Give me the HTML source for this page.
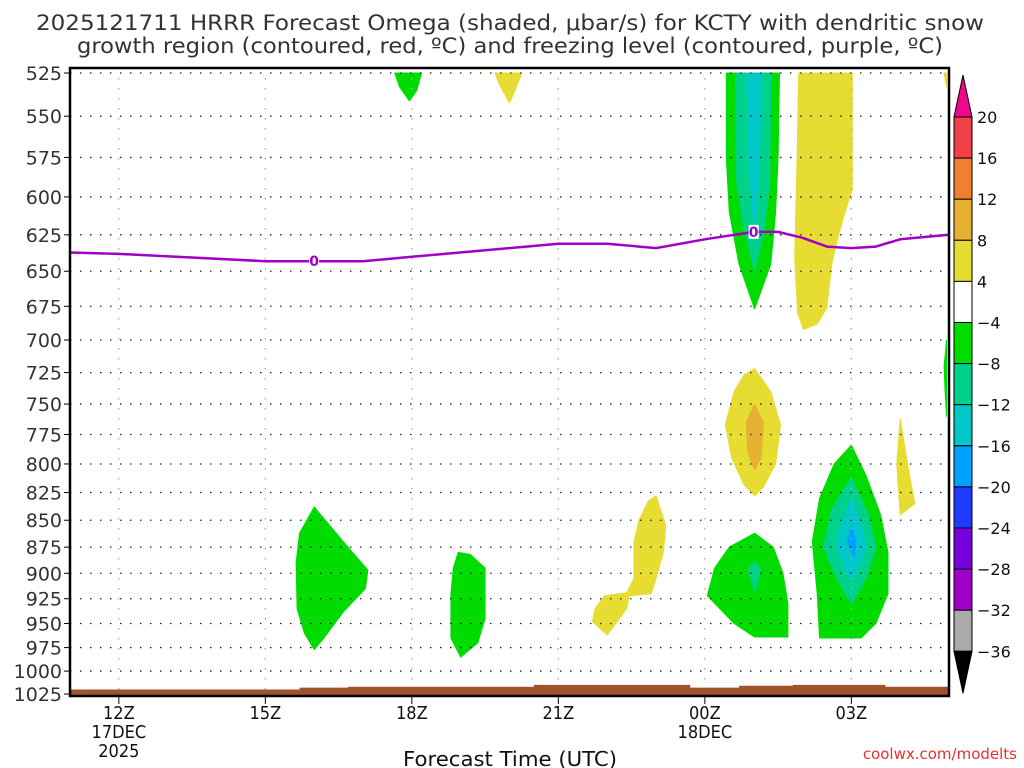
<!DOCTYPE html>
<html><head><meta charset="utf-8"><style>
body{margin:0;background:#fff;width:1024px;height:768px;overflow:hidden;font-family:"Liberation Sans",sans-serif}
svg{display:block}
</style></head><body>
<svg id="chart" width="1024" height="768" xmlns="http://www.w3.org/2000/svg">
<text x="510" y="30" text-anchor="middle" font-size="21" fill="#333" font-family="DejaVu Sans,sans-serif" textLength="948" lengthAdjust="spacingAndGlyphs">2025121711 HRRR Forecast Omega (shaded, μbar/s) for KCTY with dendritic snow</text>
<text x="510" y="53" text-anchor="middle" font-size="21" fill="#333" font-family="DejaVu Sans,sans-serif" textLength="866" lengthAdjust="spacingAndGlyphs">growth region (contoured, red, ºC) and freezing level (contoured, purple, ºC)</text>
<g id="fills"></g>
<g id="grid"></g>
<g id="terrain"></g>
<g id="frz"></g>
<g id="axes"></g>
<g id="cbar"></g>
<text x="510" y="766" text-anchor="middle" font-size="20" fill="#111" font-family="DejaVu Sans,sans-serif" textLength="214" lengthAdjust="spacingAndGlyphs">Forecast Time (UTC)</text>
<text x="1017" y="759" text-anchor="end" font-size="15" fill="#e83030" font-family="DejaVu Sans,sans-serif">coolwx.com/modelts</text>
</svg>
<script>
const pressureTicks=[525,550,575,600,625,650,675,700,725,750,775,800,825,850,875,900,925,950,975,1000,1025];
const hourTicks=[12,15,18,21,24,27];
const hourLabels=["12Z","15Z","18Z","21Z","00Z","03Z"];
const dateLabels=[["17DEC","2025"],[],[],[],["18DEC"],[]];
const frzHours=[11,12,15,16,17,18,20,21,22,23,24,25,25.5,26,26.5,27,27.5,28,29];
const frzP=[637,638,643,643,643,640,634,631,631,634,628,623,623,627,633,634,633,628,625];
const terrainHours=[11,15.7,16.7,20.5,23.7,24.7,25.8,27.7,29];
const terrainP=[1020,1018,1017,1015,1018,1016,1015,1017,1017];
const cbarLevels=[20,16,12,8,4,-4,-8,-12,-16,-20,-24,-28,-32,-36];
const cbarColors=["#f04048","#f08030","#e6b030","#e6dc32","#ffffff","#00dc00","#00d28c","#00c8c8","#00a0ff","#1e3cff","#7800dc","#a000c8","#aaaaaa"];
const blobs=[
 {c:"#00dc00",pts:[[16.0,838],[16.6,870],[17.1,897],[17.05,915],[16.6,938],[16.2,965],[16.0,977],[15.8,960],[15.65,935],[15.63,890],[15.7,862]]},
 {c:"#00dc00",pts:[[18.95,880],[19.2,882],[19.5,895],[19.5,945],[19.35,970],[19.0,985],[18.8,965],[18.8,920],[18.85,895]]},
 {c:"#e6dc32",pts:[[23.0,828],[23.2,855],[23.15,880],[23.0,905],[22.9,920],[22.45,922],[22.4,935],[22.1,955],[22.0,962],[21.7,948],[21.75,935],[21.95,922],[22.4,919],[22.55,905],[22.55,870],[22.65,850],[22.85,832]]},
 {c:"#00dc00",pts:[[17.65,525],[18.2,525],[18.1,535],[17.95,541],[17.75,533]]},
 {c:"#e6dc32",pts:[[19.7,525],[20.25,525],[20.1,536],[20.0,542],[19.8,532]]},
 {c:"#00dc00",pts:[[24.44,525],[25.53,525],[25.5,575],[25.45,610],[25.35,645],[25.02,677],[24.7,645],[24.5,610],[24.44,575]]},
 {c:"#00d28c",pts:[[24.63,525],[25.35,525],[25.33,590],[25.2,625],[25.02,650],[24.8,620],[24.65,590]]},
 {c:"#00c8c8",pts:[[24.86,525],[25.15,525],[25.12,580],[25.02,625],[24.9,580]]},
 {c:"#e6dc32",pts:[[25.92,525],[27.02,525],[27.02,595],[26.85,612],[26.7,630],[26.6,645],[26.5,676],[26.3,688],[26.02,692],[25.9,680],[25.84,640],[25.87,600],[25.9,560]]},
 {c:"#e6dc32",pts:[[25.02,722],[25.35,740],[25.55,767],[25.45,800],[25.2,820],[25.02,828],[24.8,818],[24.55,795],[24.42,767],[24.6,740],[24.8,727]]},
 {c:"#e6b030",pts:[[25.02,750],[25.2,765],[25.15,795],[25.02,805],[24.88,790],[24.85,765]]},
 {c:"#e6dc32",pts:[[28.0,762],[28.15,800],[28.3,835],[28.0,845],[27.93,800]]},
 {c:"#00dc00",pts:[[27.0,784],[27.3,810],[27.6,845],[27.75,880],[27.75,920],[27.5,950],[27.2,965],[26.35,965],[26.3,920],[26.2,870],[26.35,830],[26.65,800]]},
 {c:"#00d28c",pts:[[27.0,812],[27.35,845],[27.5,875],[27.3,905],[27.0,930],[26.7,905],[26.43,875],[26.6,840]]},
 {c:"#00c8c8",pts:[[27.0,830],[27.25,860],[27.3,875],[27.15,895],[27.0,907],[26.85,895],[26.7,875],[26.78,855]]},
 {c:"#00a0ff",pts:[[27.0,855],[27.1,870],[27.05,885],[26.92,870]]},
 {c:"#00dc00",pts:[[25.02,862],[25.4,875],[25.6,900],[25.7,930],[25.7,964],[25.02,964],[24.6,950],[24.05,922],[24.2,895],[24.5,875]]},
 {c:"#00d28c",pts:[[25.02,889],[25.15,897],[25.02,918],[24.88,897]]},
 {c:"#00dc00",pts:[[28.9,720],[28.95,700],[28.95,760],[28.92,740]]},
 {c:"#e6dc32",pts:[[28.9,525],[28.95,525],[28.95,533]]}
];
const NS="http://www.w3.org/2000/svg";
const X0=70,X1=949,Y0=68,Y1=696,H0=11,H1=29;
const yTop=73,yBot=694,P0=525,P1=1025;
function xs(h){return X0+(h-H0)/(H1-H0)*(X1-X0);}
function ys(p){return yTop+(Math.log(p)-Math.log(P0))/(Math.log(P1)-Math.log(P0))*(yBot-yTop);}
function mk(tag,attrs,parent){const e=document.createElementNS(NS,tag);for(const k in attrs)e.setAttribute(k,attrs[k]);parent.appendChild(e);return e;}
const fills=document.getElementById('fills');
blobs.forEach(b=>{const p=mk('polygon',{points:b.pts.map(q=>xs(q[0]).toFixed(1)+','+ys(q[1]).toFixed(1)).join(' '),fill:b.c,stroke:b.c,'stroke-width':1,'stroke-linejoin':'round'},fills);

});
const grid=document.getElementById('grid');
pressureTicks.forEach(p=>{const l=mk('line',{x1:X0,x2:X1,y1:ys(p),y2:ys(p),stroke:'#222','stroke-width':1.3,'stroke-dasharray':'1.5 8.5'},grid);

});
hourTicks.forEach(h=>{const l=mk('line',{x1:xs(h),x2:xs(h),y1:Y0,y2:Y1,stroke:'#aaa','stroke-width':1.3,'stroke-dasharray':'1.5 8.5'},grid);

});
const ter=document.getElementById('terrain');
let d='M'+X0+','+Y1;
terrainHours.forEach((h,i)=>{const y=ys(terrainP[i]);if(i>0)d+=' L'+xs(h).toFixed(1)+','+ys(terrainP[i-1]).toFixed(1);d+=' L'+xs(h).toFixed(1)+','+y.toFixed(1);});
d+=' L'+X1+','+Y1+' Z';
const tp=mk('path',{d:d,fill:'#a0522d'},ter);


const frz=document.getElementById('frz');
const fl=mk('polyline',{points:frzHours.map((h,i)=>xs(h).toFixed(1)+','+ys(frzP[i]).toFixed(1)).join(' '),fill:'none',stroke:'#a000c8','stroke-width':2.5,'stroke-linejoin':'round'},frz);


[16,25].forEach(h=>{const i=frzHours.indexOf(h);const y=ys(frzP[i]);
mk('rect',{x:xs(h)-5,y:y-7,width:10,height:14,fill:'#fff'},frz);
const t=mk('text',{x:xs(h),y:y+5,'text-anchor':'middle','font-size':14,'font-weight':'bold',fill:'#a000c8','font-family':'DejaVu Sans,sans-serif'},frz);t.textContent='0';

});
const ax=document.getElementById('axes');
mk('rect',{x:X0,y:Y0,width:X1-X0,height:Y1-Y0,fill:'none',stroke:'#000','stroke-width':2.5},ax);
pressureTicks.forEach(p=>{mk('line',{x1:X0-6,x2:X0,y1:ys(p),y2:ys(p),stroke:'#000'},ax);
const t=mk('text',{x:X0-8,y:ys(p)+7,'text-anchor':'end','font-size':19,fill:'#333','font-family':'DejaVu Sans,sans-serif'},ax);t.textContent=p;

});
hourTicks.forEach((h,i)=>{mk('line',{x1:xs(h),x2:xs(h),y1:Y1,y2:Y1+8,stroke:'#000'},ax);
const lines=[hourLabels[i]].concat(dateLabels[i]);
lines.forEach((s,j)=>{const t=mk('text',{x:xs(h),y:Y1+23+j*19,'text-anchor':'middle','font-size':18,fill:'#111','font-family':'DejaVu Sans Condensed,DejaVu Sans,sans-serif'},ax);t.textContent=s;

});});
const cb=document.getElementById('cbar');
const cx=954,cw=18,cTop=117,cStep=41.1;
mk('polygon',{points:`${cx},${cTop} ${cx+cw},${cTop} ${cx+cw/2},${cTop-42}`,fill:'#f0088a',stroke:'#000'},cb);
cbarColors.forEach((c,i)=>{const r=mk('rect',{x:cx,y:cTop+i*cStep,width:cw,height:cStep,fill:c,stroke:'#000'},cb);

});
const cEnd=cTop+cbarColors.length*cStep;
mk('polygon',{points:`${cx},${cEnd} ${cx+cw},${cEnd} ${cx+cw/2},${cEnd+42}`,fill:'#000',stroke:'#000'},cb);
cbarLevels.forEach((v,i)=>{const t=mk('text',{x:cx+cw+5,y:cTop+i*cStep+6,'font-size':16,fill:'#111','font-family':'DejaVu Sans,sans-serif'},cb);t.textContent=(v<0?'\u2212'+(-v):v);

});
</script>
</body></html>
